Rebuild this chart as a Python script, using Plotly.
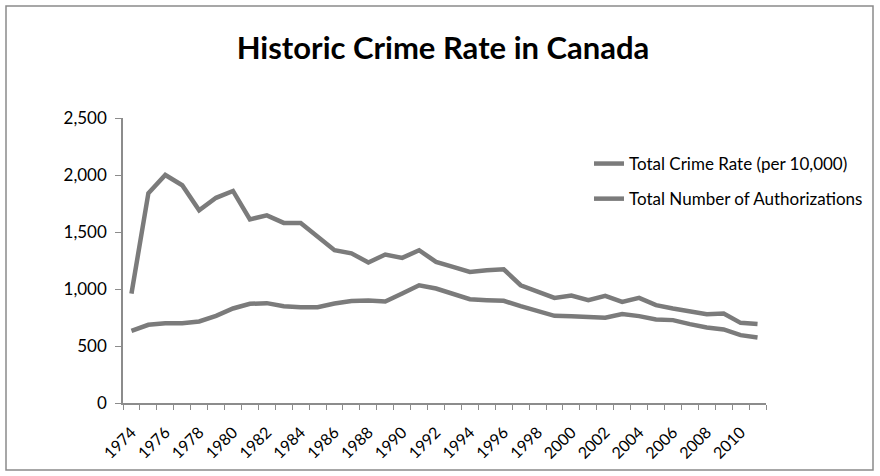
import plotly.graph_objects as go

# Canadian crime statistics, 1974-2011
years = list(range(1974, 2012))
crime_rate = [960, 1840, 2000, 1910, 1690, 1800, 1860, 1611, 1646, 1580,
              1579, 1456, 1340, 1313, 1232, 1302, 1273, 1340, 1238, 1194,
              1150, 1165, 1173, 1033, 981, 922, 943, 902, 940, 887,
              922, 858, 829, 800, 779, 785, 703, 692]
authorizations = [633, 686, 700, 700, 715, 765, 829, 870, 876, 849,
                  841, 841, 873, 895, 900, 890, 960, 1033, 1004, 954,
                  911, 902, 896, 849, 806, 765, 760, 756, 748, 780,
                  762, 733, 727, 692, 663, 645, 595, 575]
y_ticks = [0, 500, 1000, 1500, 2000, 2500]
x_label_years = list(range(1974, 2012, 2))

LINE = "#7b7b7b"
AXIS = "#8c8c8c"
FONT = "Lato, 'Open Sans', sans-serif"

fig = go.Figure()
fig.add_trace(go.Scatter(x=years, y=crime_rate, mode="lines",
                         name="Total Crime Rate (per 10,000)",
                         legendgroup="a",
                         line=dict(color=LINE, width=4.5)))
fig.add_trace(go.Scatter(x=years, y=authorizations, mode="lines",
                         name="Total Number of Authorizations",
                         legendgroup="b",
                         line=dict(color=LINE, width=4.5)))

W, H = 880, 476
L, R, T, B = 123, 114, 118, 73
pw, ph = W - L - R, H - T - B

def px_x(v):
    return (v - L) / pw

def px_y(v):
    return (H - B - v) / ph

fig.update_layout(
    width=W, height=H,
    margin=dict(l=L, r=R, t=T, b=B),
    paper_bgcolor="white", plot_bgcolor="white",
    font=dict(family=FONT, size=16, color="black"),
    title=dict(text="<b>Historic Crime Rate in Canada</b>",
               font=dict(family=FONT, size=31, color="black"),
               x=px_x(443), xref="paper", xanchor="center",
               y=1 - 48 / H, yanchor="middle"),
    showlegend=True,
    legend=dict(x=px_x(589), y=px_y(146), xanchor="left", yanchor="top",
                bgcolor="rgba(0,0,0,0)", tracegroupgap=10,
                font=dict(family=FONT, size=17, color="black")),
    xaxis=dict(range=[1973.5, 2011.5], tickmode="array",
               tickvals=x_label_years, ticktext=[str(y) for y in x_label_years],
               tickangle=-45, ticks="outside", ticklen=0,
               ticklabelstandoff=12,
               showgrid=False, zeroline=False,
               showline=True, linecolor=AXIS, linewidth=1.5,
               tickfont=dict(family=FONT, size=16, color="black"),
               minor=dict(tickmode="array",
                          tickvals=[y - 0.5 for y in years] + [2011.5],
                          ticks="outside", ticklen=5, tickcolor=AXIS,
                          tickwidth=1.2, showgrid=False)),
    yaxis=dict(range=[0, 2500], tickmode="array", tickvals=y_ticks,
               tickformat=",", ticks="outside", ticklen=6, tickcolor=AXIS,
               tickwidth=1.2, ticklabelstandoff=5,
               showgrid=False, zeroline=False,
               showline=True, linecolor=AXIS, linewidth=1.5,
               tickfont=dict(family=FONT, size=17, color="black")),
)

# chart frame
fig.add_shape(type="rect", xref="paper", yref="paper",
              x0=px_x(6), x1=px_x(873), y0=px_y(470), y1=px_y(6),
              line=dict(color="#8a8a8a", width=1.5), fillcolor="rgba(0,0,0,0)",
              layer="below")

fig.write_html("out.html")
